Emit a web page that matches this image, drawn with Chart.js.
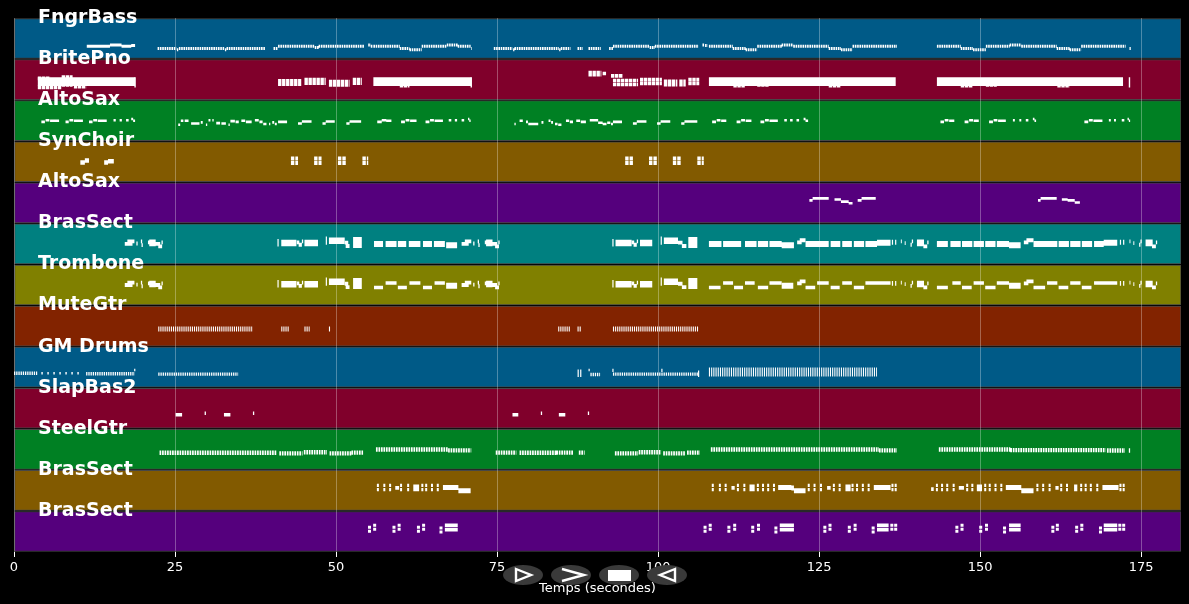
<!DOCTYPE html>
<html>
<head>
<meta charset="utf-8">
<title>Temps (secondes)</title>
<script src="https://cdn.jsdelivr.net/npm/chart.js@4"></script>
<style>
    html, body { margin: 0; background: #000; }
    #stage { position: relative; width: 1189px; height: 604px; overflow: hidden; }
    #roll { display: block; }
    #controls { position: absolute; left: 0; top: 0; }
</style>
</head>
<body>
<div id="stage">
    <canvas id="roll" width="1189" height="604"></canvas>
    <svg id="controls" width="1189" height="604">
        <g fill="#3a3a3a">
            <ellipse cx="523" cy="575" rx="20" ry="10"></ellipse>
            <ellipse cx="571" cy="575" rx="20" ry="10"></ellipse>
            <ellipse cx="619" cy="575" rx="20" ry="10"></ellipse>
            <ellipse cx="667" cy="575" rx="20" ry="10"></ellipse>
        </g>
        <g fill="none" stroke="#fff" stroke-width="2.4">
            <path d="M516 569 L531 575 L516 581 Z"></path>
            <path d="M562 569 L584 575 L562 581"></path>
            <path d="M675 569 L660 575 L675 581 Z"></path>
        </g>
        <rect x="608" y="570" width="23" height="11" fill="#fff"></rect>
    </svg>
</div>
<script>
const trackNames = ['FngrBass', 'BritePno', 'AltoSax', 'SynChoir', 'AltoSax', 'BrasSect', 'Trombone',
    'MuteGtr', 'GM Drums', 'SlapBas2', 'SteelGtr', 'BrasSect', 'BrasSect'];
const trackColors = ['#005a87', '#80002b', '#008023', '#825a00', '#55007d', '#008080', '#808000',
    '#822300', '#005a87', '#80002b', '#008023', '#825a00', '#55007d'];
const timeTicks = [0, 25, 50, 75, 100, 125, 150, 175];
const maxTime = 181.2;

// every note is [start, end, height inside its track], stems are [time, top, bottom]
const bassLong = [[11.3, 14.9, .69], [14.9, 16.7, .66], [16.7, 18.2, .69], [18.2, 18.8, .67]];
const bassRuns = [[22.3, 25.2, .74], [25.3, 25.5, .77], [25.6, 32.7, .74], [32.75, 32.95, .77], [33, 39, .74],
    [40.3, 41, .74], [41, 46.7, .69], [46.7, 47.3, .72], [47.3, 54.4, .69], [55, 55.4, .66], [55.4, 55.7, .69],
    [55.8, 59.9, .69], [59.9, 61.4, .74], [61.4, 63.3, .775], [63.3, 67.2, .69], [67.2, 68.9, .66], [68.9, 70.9, .69],
    [71, 71.1, .74], [74.5, 77.4, .74], [77.5, 77.7, .77], [77.7, 84.6, .74], [84.65, 84.85, .77], [84.9, 86.4, .74],
    [87.5, 88.3, .74], [89.2, 91.1, .74], [92.4, 93, .74], [93, 98.7, .69], [98.7, 99.5, .72], [99.5, 106.3, .69],
    [106.9, 107.2, .66], [107.3, 107.7, .67], [107.9, 111.6, .69], [111.6, 113.6, .74], [113.6, 115.4, .775],
    [115.4, 119.2, .69], [119.2, 121, .66], [121, 126.5, .69], [126.5, 128.4, .74], [128.4, 130.2, .775],
    [130.2, 137.1, .69], [143.3, 147, .69], [147, 148.9, .74], [148.9, 150.9, .775], [150.9, 154.6, .69],
    [154.6, 156.4, .66], [156.4, 161.9, .69], [161.9, 163.9, .74], [163.9, 165.7, .775], [165.7, 172.6, .69],
    [173.2, 173.4, .74]];

const pianoBands = [[3.7, 18.8, .55], [55.8, 71, .55], [107.9, 136.9, .55], [143.3, 172.2, .55]];
const pianoRows = [[3.7, 5.6, .47], [7.4, 9.1, .44], [3.7, 7.4, .69], [7.4, 9.1, .63], [9.3, 11.2, .675],
    [41, 44.6, .53], [41, 44.6, .61], [45.1, 48.4, .5], [45.1, 48.4, .585], [48.9, 52.1, .55], [48.9, 52.1, .63],
    [52.6, 54, .5], [52.6, 54, .585], [59.9, 61.4, .65], [89.2, 91.2, .33], [89.2, 91.2, .38], [91.4, 92, .35],
    [92.7, 94.5, .41], [93, 96.9, .52], [93, 96.9, .62], [97.2, 100.6, .5], [97.2, 100.6, .595],
    [100.9, 103, .54], [100.9, 103, .625], [103.3, 104.3, .54], [103.3, 104.3, .625], [104.7, 106.4, .5],
    [104.7, 106.4, .595], [111.7, 113.5, .65], [115.4, 117.2, .63], [126.5, 128.4, .65], [147, 148.9, .65],
    [150.9, 152.6, .63], [162, 163.9, .65]];
const pianoStems = [[173.2, .44, .69], [18.8, .44, .69], [71, .44, .69]];

const saxNotes = [[4.25, 4.8, .53], [4.9, 5.5, .49], [5.6, 7, .5], [8, 8.5, .53], [8.6, 9.2, .49], [9.3, 10.7, .5],
    [11.65, 12.2, .53], [12.3, 12.9, .49], [13, 14.4, .5], [15.45, 15.8, .49], [16.4, 16.75, .49], [17.4, 17.8, .49],
    [18.2, 18.5, .46], [18.5, 18.8, .5],
    [25.5, 25.8, .6], [25.9, 26.3, .5], [26.5, 27.1, .5], [27.5, 28.8, .57], [29, 29.3, .54], [29.8, 30, .6],
    [30.2, 30.5, .49], [30.8, 31, .49], [31.4, 32, .56], [32.2, 32.9, .57], [33.3, 33.5, .6], [33.6, 34.3, .51],
    [34.4, 34.9, .53], [35.3, 35.9, .5], [36, 36.9, .53], [37.4, 38, .49], [38.1, 38.6, .53], [38.7, 39.2, .58],
    [39.6, 39.8, .58], [40.1, 40.4, .54], [40.5, 40.8, .58], [41, 42.4, .53],
    [44.1, 44.7, .57], [44.7, 46.2, .52], [47.9, 48.4, .57], [48.4, 49.8, .52], [51.6, 52.1, .57], [52.1, 53.9, .52],
    [56.4, 57.1, .53], [57.1, 57.8, .49], [57.8, 58.6, .5], [60.1, 60.7, .53], [60.8, 61.4, .49], [61.5, 62.5, .5],
    [63.9, 64.5, .53], [64.6, 65.2, .49], [65.3, 66.6, .5], [67.5, 67.9, .49], [68.45, 68.8, .49], [69.5, 69.9, .49],
    [70.5, 70.7, .46], [70.7, 70.9, .5],
    [77.7, 77.9, .58], [78.5, 79, .5], [79.5, 79.8, .53], [79.85, 81.4, .58], [81.9, 82.2, .54], [83, 83.3, .5],
    [83.4, 83.7, .54], [84, 84.4, .58], [84.5, 85, .6], [85.7, 86.2, .5], [86.3, 86.8, .53], [87.3, 87.9, .5],
    [88, 88.8, .53], [89.4, 90.7, .49], [90.7, 91.4, .55], [91.4, 92, .58], [92.1, 92.6, .55], [92.7, 93, .58],
    [93, 94.4, .53], [96.1, 96.7, .57], [96.7, 98.2, .52], [99.85, 100.4, .57], [100.4, 101.9, .52],
    [103.6, 104.1, .57], [104.1, 106.1, .52], [108.4, 109, .53], [109.1, 109.7, .49], [109.8, 110.6, .5],
    [112.2, 112.8, .53], [112.9, 113.5, .49], [113.6, 114.5, .5], [115.9, 116.5, .53], [116.6, 117.2, .49],
    [117.3, 118.6, .5], [119.6, 120, .49], [120.5, 120.9, .49], [121.5, 121.9, .49], [122.6, 122.9, .46],
    [122.9, 123.3, .5],
    [143.85, 144.4, .53], [144.5, 145.1, .49], [145.2, 146, .5], [147.6, 148.2, .53], [148.3, 148.9, .49],
    [149, 149.8, .5], [151.4, 152, .53], [152.1, 152.7, .49], [152.8, 154, .5], [155.1, 155.4, .49], [156.1, 156.4, .49],
    [157.1, 157.5, .49], [158.2, 158.45, .46], [158.45, 158.7, .5], [166.2, 166.8, .53], [166.9, 167.5, .49],
    [167.6, 169, .5], [170, 170.3, .49], [170.8, 171.1, .49], [172, 172.4, .49], [172.9, 173.1, .46], [173.1, 173.3, .5]];

const choirNotes = [[10.3, 11, .52], [11, 11.65, .47], [14, 14.6, .52], [14.6, 15.5, .49]];
const choirChords = [[43, 44.1, .42], [43, 44.1, .53], [46.6, 47.75, .42], [46.6, 47.75, .53], [50.3, 51.6, .42],
    [50.3, 51.6, .53], [54.1, 55, .42], [54.1, 55, .53], [94.9, 96.1, .42], [94.9, 96.1, .53], [98.6, 99.85, .42],
    [98.6, 99.85, .53], [102.3, 103.6, .42], [102.3, 103.6, .53], [106.1, 107.1, .42], [106.1, 107.1, .53]];

const sax2Notes = [[123.5, 124, .44], [124, 126.5, .39], [127.4, 128.4, .42], [128.4, 129.6, .47], [129.6, 130.2, .51],
    [131, 131.6, .44], [131.6, 133.8, .39], [159, 159.4, .44], [159.4, 161.9, .39], [162.7, 163.6, .42],
    [163.6, 164.7, .44], [164.7, 165.5, .49]];

// riffs shared by the BrasSect and Trombone tracks
const brassRiffs = [[17.2, 18.4, .5], [17.6, 18.7, .44], [19, 19.2, .49], [19.7, 19.9, .44], [19.8, 20, .53], [20.8, 21, .46],
    [21, 22, .44], [21, 22, .51], [22, 22.7, .5], [22.4, 23, .56], [22.9, 23.1, .46],
    [43.9, 44.3, .46], [44.2, 44.7, .52], [44.7, 44.9, .44], [51.35, 51.9, .47], [51.5, 52.1, .55],
    [69.5, 70.6, .5], [70, 71, .44], [71.3, 71.5, .49], [72, 72.2, .44], [72.1, 72.3, .53], [73.1, 73.3, .46],
    [73.3, 74.3, .44], [73.3, 74.3, .51], [74.3, 75, .5], [74.7, 75.3, .56], [75.2, 75.4, .46],
    [95.9, 96.3, .46], [96.2, 96.7, .52], [96.7, 96.9, .44], [103.1, 103.8, .47], [103.7, 104.4, .55],
    [121.6, 122.3, .46], [122, 122.9, .41], [156.8, 157.5, .46], [157.2, 158.3, .41],
    [137.7, 137.85, .44], [138.3, 138.45, .48], [139.2, 139.4, .52], [139.4, 139.6, .44], [140.2, 141.3, .44],
    [140.2, 141.3, .51], [141.2, 141.8, .56], [141.8, 142, .46],
    [173.2, 173.35, .44], [173.8, 173.95, .48], [174.7, 174.9, .52], [174.9, 175.1, .44], [175.7, 176.8, .44],
    [175.7, 176.8, .51], [176.7, 177.3, .56], [177.3, 177.5, .46]];
const brassThinStems = [[41, .38, .56], [48.5, .32, .52], [93, .38, .56], [100.5, .32, .52], [136.4, .4, .52],
    [136.9, .4, .52], [171.8, .4, .52], [172.3, .4, .52]];
const brassChords = [[41.5, 43.85, .48], [45.1, 47.2, .48], [48.9, 51.35, .42], [52.65, 54, .41], [52.65, 54, .52],
    [93.4, 95.9, .48], [97.2, 99.1, .48], [100.9, 103.1, .42], [104.7, 106.1, .41], [104.7, 106.1, .52]];
const sectLines = [[55.9, 57.3, .5], [57.7, 59.4, .5], [59.6, 60.9, .5], [61.3, 63.1, .5], [63.5, 64.9, .5], [65.2, 66.9, .5],
    [67.1, 68.8, .53], [107.9, 109.85, .5], [110.1, 112.9, .5], [113.5, 115.3, .5], [115.5, 117.1, .5], [117.3, 119.2, .5],
    [119.2, 121.1, .53], [122.9, 124.7, .5], [124.7, 126.5, .5], [126.8, 128.3, .5], [128.6, 130.1, .5], [130.4, 132, .5],
    [132.2, 134, .5], [134, 136.1, .47], [143.3, 145, .5], [145.4, 147, .5], [147.2, 148.8, .5], [149, 150.6, .5],
    [150.8, 152.4, .5], [152.6, 154.5, .5], [154.5, 156.3, .53], [158.3, 160.2, .5], [160.2, 162, .5], [162.2, 163.8, .5],
    [164, 165.6, .5], [165.8, 167.4, .5], [167.7, 169.2, .5], [169.2, 171.3, .47]];
const tromboneLines = [[55.9, 57.3, .56], [57.7, 59.4, .45], [59.6, 61, .56], [61.4, 63.1, .45], [63.5, 64.9, .56],
    [65.3, 66.9, .45], [107.9, 109.7, .56], [110.1, 111.65, .45], [111.8, 113.2, .56], [113.5, 115, .45], [115.5, 117.1, .56],
    [117.3, 119.2, .45], [122.9, 124.4, .56], [124.7, 126.5, .45], [126.8, 128.2, .56], [128.6, 130.1, .45], [130.4, 132, .56],
    [132.2, 136.1, .45], [143.3, 145, .56], [145.7, 147, .45], [147.2, 148.7, .56], [149, 150.6, .45], [150.8, 152.4, .56],
    [152.6, 154.5, .45], [158.3, 160.1, .56], [160.4, 162, .45], [162.2, 163.7, .56], [164, 165.6, .45], [165.8, 167.3, .56],
    [167.7, 171.3, .45]];
const tromboneLong = [[67.1, 68.8, .52], [119.2, 121, .52], [154.5, 156.3, .52]];

const muteRuns = [[22.4, 37.1, .57], [41.5, 42.7, .57], [45.1, 45.9, .57], [48.9, 49.1, .57], [84.5, 86.3, .57],
    [87.5, 88.1, .57], [93, 106.3, .57]];
const drumFast = [[0, 3.6, .65], [11.2, 18.75, .66], [22.4, 34.8, .67], [89.5, 91, .68], [93, 106.3, .67]];
const drumSparse = [[4.25, 10.5, .65]];
const drumRoll = [[107.9, 134, .62]];
const drumStems = [[18.75, .54, .6], [87.6, .56, .74], [88, .56, .74], [89.3, .54, .6], [93, .54, .62], [100.6, .54, .62],
    [106.3, .58, .74]];
const slapNotes = [[25.1, 26.1, .66], [29.6, 29.8, .62], [32.6, 33.6, .66], [37.1, 37.3, .62], [77.4, 78.3, .66],
    [81.8, 82, .62], [84.6, 85.6, .66], [89.1, 89.3, .62]];
const steelRuns = [[22.6, 40.8, .585], [41.2, 44.8, .6], [45, 48.6, .57], [49, 52.4, .6], [52.4, 54.2, .58],
    [56.2, 67.4, .505], [67.4, 71, .525], [74.8, 78, .58], [78.5, 84.2, .585], [84.2, 86.8, .58], [87.7, 88.6, .58],
    [93.3, 96.9, .6], [97, 100.5, .57], [100.8, 104.3, .6], [104.5, 106.5, .58], [108.2, 134.3, .505], [134.3, 137.1, .525],
    [143.6, 154.7, .505], [154.7, 169.5, .52], [169.7, 172.5, .53], [173.1, 173.3, .53]];

const horn1Stems = [[56.5, .34, .52], [57.5, .34, .52], [58.4, .34, .52], [60.1, .34, .52], [61.2, .34, .52], [63.4, .34, .52],
    [64, .34, .52], [64.9, .34, .52], [65.8, .34, .52], [108.5, .34, .52], [109.6, .34, .52], [110.5, .34, .52], [112.4, .34, .52],
    [113.4, .34, .52], [115.5, .34, .52], [116.3, .34, .52], [117.1, .34, .52], [118, .34, .52], [123.4, .34, .52], [124.3, .34, .52],
    [125.3, .34, .52], [127.3, .34, .52], [128.2, .34, .52], [130.2, .34, .52], [130.9, .34, .52], [131.8, .34, .52], [132.7, .34, .52],
    [136.4, .34, .52], [136.9, .34, .52], [143.3, .34, .52], [144.1, .34, .52], [144.9, .34, .52], [145.9, .34, .52], [148, .34, .52],
    [148.8, .34, .52], [150.8, .34, .52], [151.5, .34, .52], [152.4, .34, .52], [153.3, .34, .52], [158.9, .34, .52], [159.8, .34, .52],
    [160.8, .34, .52], [162.6, .34, .52], [163.5, .34, .52], [165.7, .34, .52], [166.4, .34, .52], [167.2, .34, .52], [168.2, .34, .52],
    [171.8, .34, .52], [172.3, .34, .52]];
const horn1Blobs = [[59.2, 59.8, .44], [62, 62.9, .4], [62, 62.9, .48], [111.4, 111.9, .44], [114.2, 115, .4], [114.2, 115, .48],
    [126.25, 126.8, .44], [129.1, 129.9, .4], [129.1, 129.9, .48], [142.4, 142.8, .47], [146.7, 147.5, .44], [149.5, 150.3, .4],
    [149.5, 150.3, .48], [161.7, 162.2, .44], [164.6, 165.1, .4], [164.6, 165.1, .48]];
const horn1Long = [[66.6, 69, .43], [69, 70.9, .51], [118.65, 120.7, .43], [120.7, 121.1, .44], [121.1, 122.9, .51], [133.5, 136.1, .43],
    [154, 156.4, .43], [156.4, 158.3, .51], [169, 171.5, .43]];
const horn2Stems = [[55.2, .36, .55], [56, .31, .5], [59, .36, .55], [59.8, .31, .5], [62.8, .36, .55], [63.6, .31, .5], [66.3, .38, .56],
    [107.3, .36, .55], [108.1, .31, .5], [111, .36, .55], [111.9, .31, .5], [114.7, .36, .55], [115.6, .31, .5], [118.3, .38, .56],
    [125.9, .36, .55], [126.7, .31, .5], [129.7, .36, .55], [130.6, .31, .5], [133.4, .38, .56], [136.3, .31, .5], [136.9, .31, .5],
    [146.4, .36, .55], [147.2, .31, .5], [150.1, .36, .55], [151, .31, .5], [153.8, .38, .56], [161.3, .36, .55], [162, .31, .5],
    [165, .36, .55], [165.8, .31, .5], [168.7, .38, .56], [171.7, .31, .5], [172.3, .31, .5]];
const horn2Rows = [[66.9, 68.9, .35], [66.9, 68.9, .455], [118.9, 121.1, .35], [118.9, 121.1, .455], [134, 135.8, .35], [134, 135.8, .455],
    [154.5, 156.3, .35], [154.5, 156.3, .455], [169.2, 171.3, .35], [169.2, 171.3, .455]];

// [track, notes or stems, line width, dash]
const noteLayers = [
    [0, bassLong, 3, []], [0, bassRuns, 3, [1.6, .7]],
    [1, pianoBands, 8.6, []], [1, pianoRows, 3.6, [3.4, .6]],
    [2, saxNotes, 2.6, []],
    [3, choirNotes, 4.5, []], [3, choirChords, 4, [3.4, 1]],
    [4, sax2Notes, 2.6, []],
    [5, brassRiffs, 3.8, []], [5, brassChords, 6.5, []], [5, sectLines, 6, []],
    [6, brassRiffs, 3.8, []], [6, brassChords, 6.5, []], [6, tromboneLines, 3.6, []], [6, tromboneLong, 6, []],
    [7, muteRuns, 5, [1.1, 1]],
    [8, drumFast, 3.4, [1.3, .9]], [8, drumSparse, 2.4, [1.4, 4.6]], [8, drumRoll, 9, [1.1, 1.1]],
    [9, slapNotes, 3.5, []],
    [10, steelRuns, 4.4, [1.7, .8]],
    [11, horn1Blobs, 3.6, []], [11, horn1Long, 5, []],
    [12, horn2Rows, 3.6, []]
];
const stemLayers = [
    [1, pianoStems, 1.4, []],
    [5, brassThinStems, 1.2, []], [6, brassThinStems, 1.2, []],
    [8, drumStems, 1.2, []],
    [11, horn1Stems, 2, [3.3, 1]],
    [12, horn2Stems, 3, [3, 1]]
];

function notePoints(track, notes) {
    const points = [];
    notes.forEach(n => {
        points.push({ x: n[0], y: track + n[2] }, { x: n[1], y: track + n[2] }, { x: null, y: null });
    });
    return points;
}

function stemPoints(track, stems) {
    const points = [];
    stems.forEach(s => {
        points.push({ x: s[0], y: track + s[1] }, { x: s[0], y: track + s[2] }, { x: null, y: null });
    });
    return points;
}

function lineDataset(points, width, dash) {
    return {
        type: 'scatter',
        data: points,
        showLine: true,
        spanGaps: false,
        borderColor: '#fff',
        borderWidth: width,
        borderDash: dash,
        borderCapStyle: 'butt',
        pointRadius: 0,
        order: 1
    };
}

const datasets = [{
    type: 'bar',
    indexAxis: 'y',
    data: trackNames.map((name, i) => ({ x: [0, maxTime], y: i + 0.5 })),
    backgroundColor: trackColors,
    borderColor: 'rgba(255, 255, 255, 0.28)',
    borderWidth: 1,
    borderSkipped: false,
    barThickness: 40,
    order: 2
}];
noteLayers.forEach(l => datasets.push(lineDataset(notePoints(l[0], l[1]), l[2], l[3])));
stemLayers.forEach(l => datasets.push(lineDataset(stemPoints(l[0], l[1]), l[2], l[3])));

new Chart(document.getElementById('roll').getContext('2d'), {
    data: { datasets: datasets },
    options: {
        responsive: false,
        animation: false,
        devicePixelRatio: 1,
        layout: { padding: { left: 14, right: 8, top: 18, bottom: 0 } },
        plugins: { legend: { display: false }, tooltip: { enabled: false } },
        scales: {
            x: {
                type: 'linear',
                offset: false,
                min: 0,
                max: maxTime,
                afterBuildTicks: scale => { scale.ticks = timeTicks.map(v => ({ value: v })); },
                afterFit: scale => { scale.height = 52; },
                grid: { offset: false, color: 'rgba(255, 255, 255, 0.3)', tickColor: '#fff', tickLength: 5, z: 1 },
                border: { display: false },
                ticks: { color: '#fff', font: { family: 'DejaVu Sans', size: 13 }, maxRotation: 0, padding: 3 },
                title: {
                    display: true,
                    text: 'Temps (secondes)',
                    color: '#fff',
                    font: { family: 'DejaVu Sans', size: 13 },
                    padding: { top: 0, bottom: 8 }
                }
            },
            y: {
                type: 'linear',
                offset: false,
                reverse: true,
                min: 0,
                max: trackNames.length,
                afterBuildTicks: scale => { scale.ticks = trackNames.map((name, i) => ({ value: i })); },
                afterFit: scale => {
                    scale.width = 0;
                    scale.paddingTop = 0;
                    scale.paddingBottom = 0;
                },
                grid: { display: false, offset: false },
                border: { display: false },
                ticks: {
                    z: 1,
                    mirror: true,
                    padding: 24,
                    autoSkip: false,
                    color: '#fff',
                    font: { family: 'DejaVu Sans', size: 19, weight: 'bold' },
                    callback: value => trackNames[value]
                }
            }
        }
    }
});
</script>
</body>
</html>
